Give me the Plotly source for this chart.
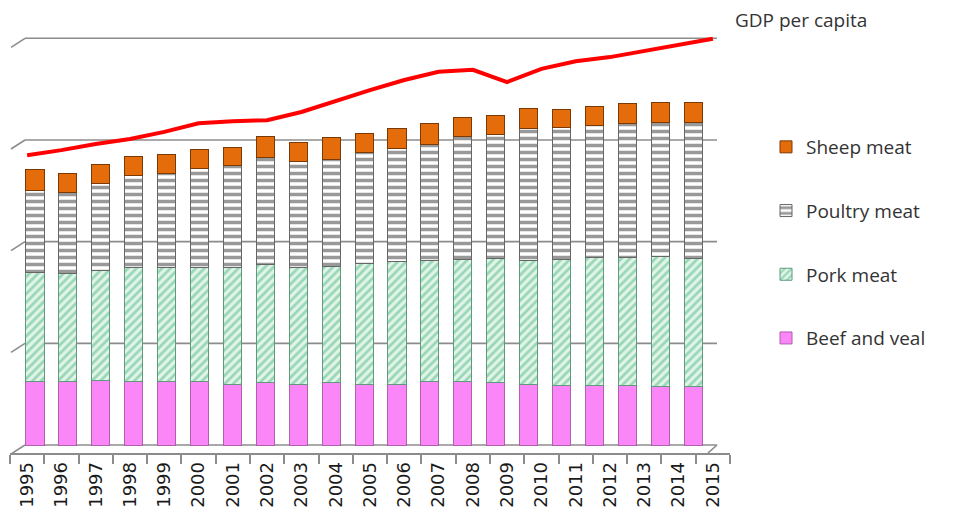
import plotly.graph_objects as go

years = list(range(1995, 2016))
year_labels = [str(y) for y in years]

beef = [12.4, 12.4, 12.6, 12.4, 12.4, 12.4, 12.0, 12.2, 12.0, 12.2, 12.0,
        12.0, 12.4, 12.4, 12.2, 12.0, 11.8, 11.8, 11.8, 11.6, 11.6]
pork = [21.6, 21.4, 21.8, 22.6, 22.6, 22.6, 23.0, 23.4, 23.0, 23.0, 23.8,
        24.0, 23.8, 24.0, 24.4, 24.2, 24.6, 25.0, 25.0, 25.4, 25.0]
poultry = [16.1, 15.9, 17.1, 18.1, 18.5, 19.3, 19.9, 20.9, 20.7, 20.9, 21.8,
           22.4, 23.0, 24.2, 24.4, 26.0, 26.0, 26.0, 26.4, 26.4, 26.9]
sheep = [4.1, 3.7, 3.7, 3.7, 3.7, 3.9, 3.7, 4.1, 3.9, 4.3, 3.7,
         3.9, 4.1, 3.9, 3.9, 3.9, 3.5, 3.7, 3.9, 3.9, 3.9]
gdp = [57.0, 58.0, 59.2, 60.2, 61.6, 63.3, 63.7, 63.9, 65.5, 67.7, 69.8,
       71.8, 73.4, 73.8, 71.4, 74.0, 75.5, 76.3, 77.5, 78.7, 79.9]
grid_levels = [0, 20, 40, 60, 80]

FONT = "Open Sans"
OFF = 8  # page body margin
W, H = 963 - OFF, 522 - OFF
# plot-area edges in reference pixels
L_REF, R_REF, T_REF, B_REF = 10, 730, 30, 453
PX_PER_UNIT = (445 - 38.3) / 80.0
Y_MIN = -(B_REF - 445) / PX_PER_UNIT
Y_MAX = (445 - T_REF) / PX_PER_UNIT


def px(x):
    return (x - L_REF) / (R_REF - L_REF)


def py(y):
    return (B_REF - y) / (B_REF - T_REF)


fig = go.Figure()

bar_w = 0.55
fig.add_trace(go.Bar(
    x=years, y=beef, name="Beef and veal", xaxis="x2", legendgroup="b",
    legendrank=4, width=bar_w,
    marker=dict(color="#fb86f8", line=dict(color="#b060ad", width=1)),
))
fig.add_trace(go.Bar(
    x=years, y=pork, name="Pork meat", xaxis="x2", legendgroup="p",
    legendrank=3, width=bar_w,
    marker=dict(color="#e0f4e8", line=dict(color="#5f9a7c", width=1),
                pattern=dict(shape="/", fgcolor="#4fb883", bgcolor="#e0f4e8",
                             size=6, solidity=0.45)),
))
fig.add_trace(go.Bar(
    x=years, y=poultry, name="Poultry meat", xaxis="x2", legendgroup="c",
    legendrank=2, width=bar_w,
    marker=dict(color="#ffffff", line=dict(color="#666666", width=1),
                pattern=dict(shape="-", fgcolor="#333333", bgcolor="#ffffff",
                             size=7, solidity=0.5)),
))
fig.add_trace(go.Bar(
    x=years, y=sheep, name="Sheep meat", xaxis="x2", legendgroup="s",
    legendrank=1, width=bar_w,
    marker=dict(color="#e46c0a", line=dict(color="#7a3a05", width=1)),
))
fig.add_trace(go.Scatter(
    x=year_labels, y=gdp, mode="lines", name="GDP per capita", showlegend=False,
    line=dict(color="#ff0000", width=4), cliponaxis=False,
))

shapes = []
for v in grid_levels:
    shapes.append(dict(type="line", xref="paper", yref="y", layer="below",
                       x0=px(25), x1=px(717), y0=v, y1=v,
                       line=dict(color="#8c8c8c", width=1.6)))
    shapes.append(dict(type="line", xref="paper", yref="y", layer="below",
                       x0=px(11), x1=px(25), y0=v - 9 / PX_PER_UNIT, y1=v,
                       line=dict(color="#8c8c8c", width=1.6)))
shapes.append(dict(type="line", xref="paper", yref="y", layer="below",
                   x0=px(708), x1=px(717), y0=Y_MIN, y1=0,
                   line=dict(color="#8c8c8c", width=1.6)))

fig.update_layout(
    width=W, height=H,
    margin=dict(l=L_REF - OFF, r=W - (R_REF - OFF), t=T_REF - OFF,
                b=H - (B_REF - OFF), pad=0),
    paper_bgcolor="white", plot_bgcolor="white",
    barmode="stack", bargap=0.4,
    font=dict(family=FONT, color="#333333"),
    shapes=shapes,
    xaxis=dict(type="category", categoryorder="array", categoryarray=year_labels,
               range=[-0.5, 20.5], tickson="boundaries", ticks="outside",
               ticklen=9, tickwidth=1.5, tickcolor="#8c8c8c",
               showline=True, linecolor="#8c8c8c", linewidth=1.6,
               showgrid=False, zeroline=False, tickangle=-90, automargin=False,
               tickfont=dict(family="DejaVu Sans", size=18, color="#1a1a1a")),
    xaxis2=dict(overlaying="x", anchor="y", range=[1994.24, 2016.12],
                visible=False, showgrid=False, zeroline=False),
    yaxis=dict(range=[Y_MIN, Y_MAX], showgrid=False, zeroline=False,
               showticklabels=False, ticks="", showline=False, automargin=False),
    legend=dict(x=px(766), xanchor="left", y=py(128),
                yanchor="top", traceorder="grouped", tracegroupgap=36,
                font=dict(family=FONT, size=19, color="#333333"),
                bgcolor="rgba(0,0,0,0)"),
    annotations=[dict(text="GDP per capita", xref="paper", yref="paper",
                      x=px(733), xanchor="left", y=py(20),
                      yanchor="middle", showarrow=False,
                      font=dict(family=FONT, size=19, color="#333333"))],
)

fig.write_html("out.html")
